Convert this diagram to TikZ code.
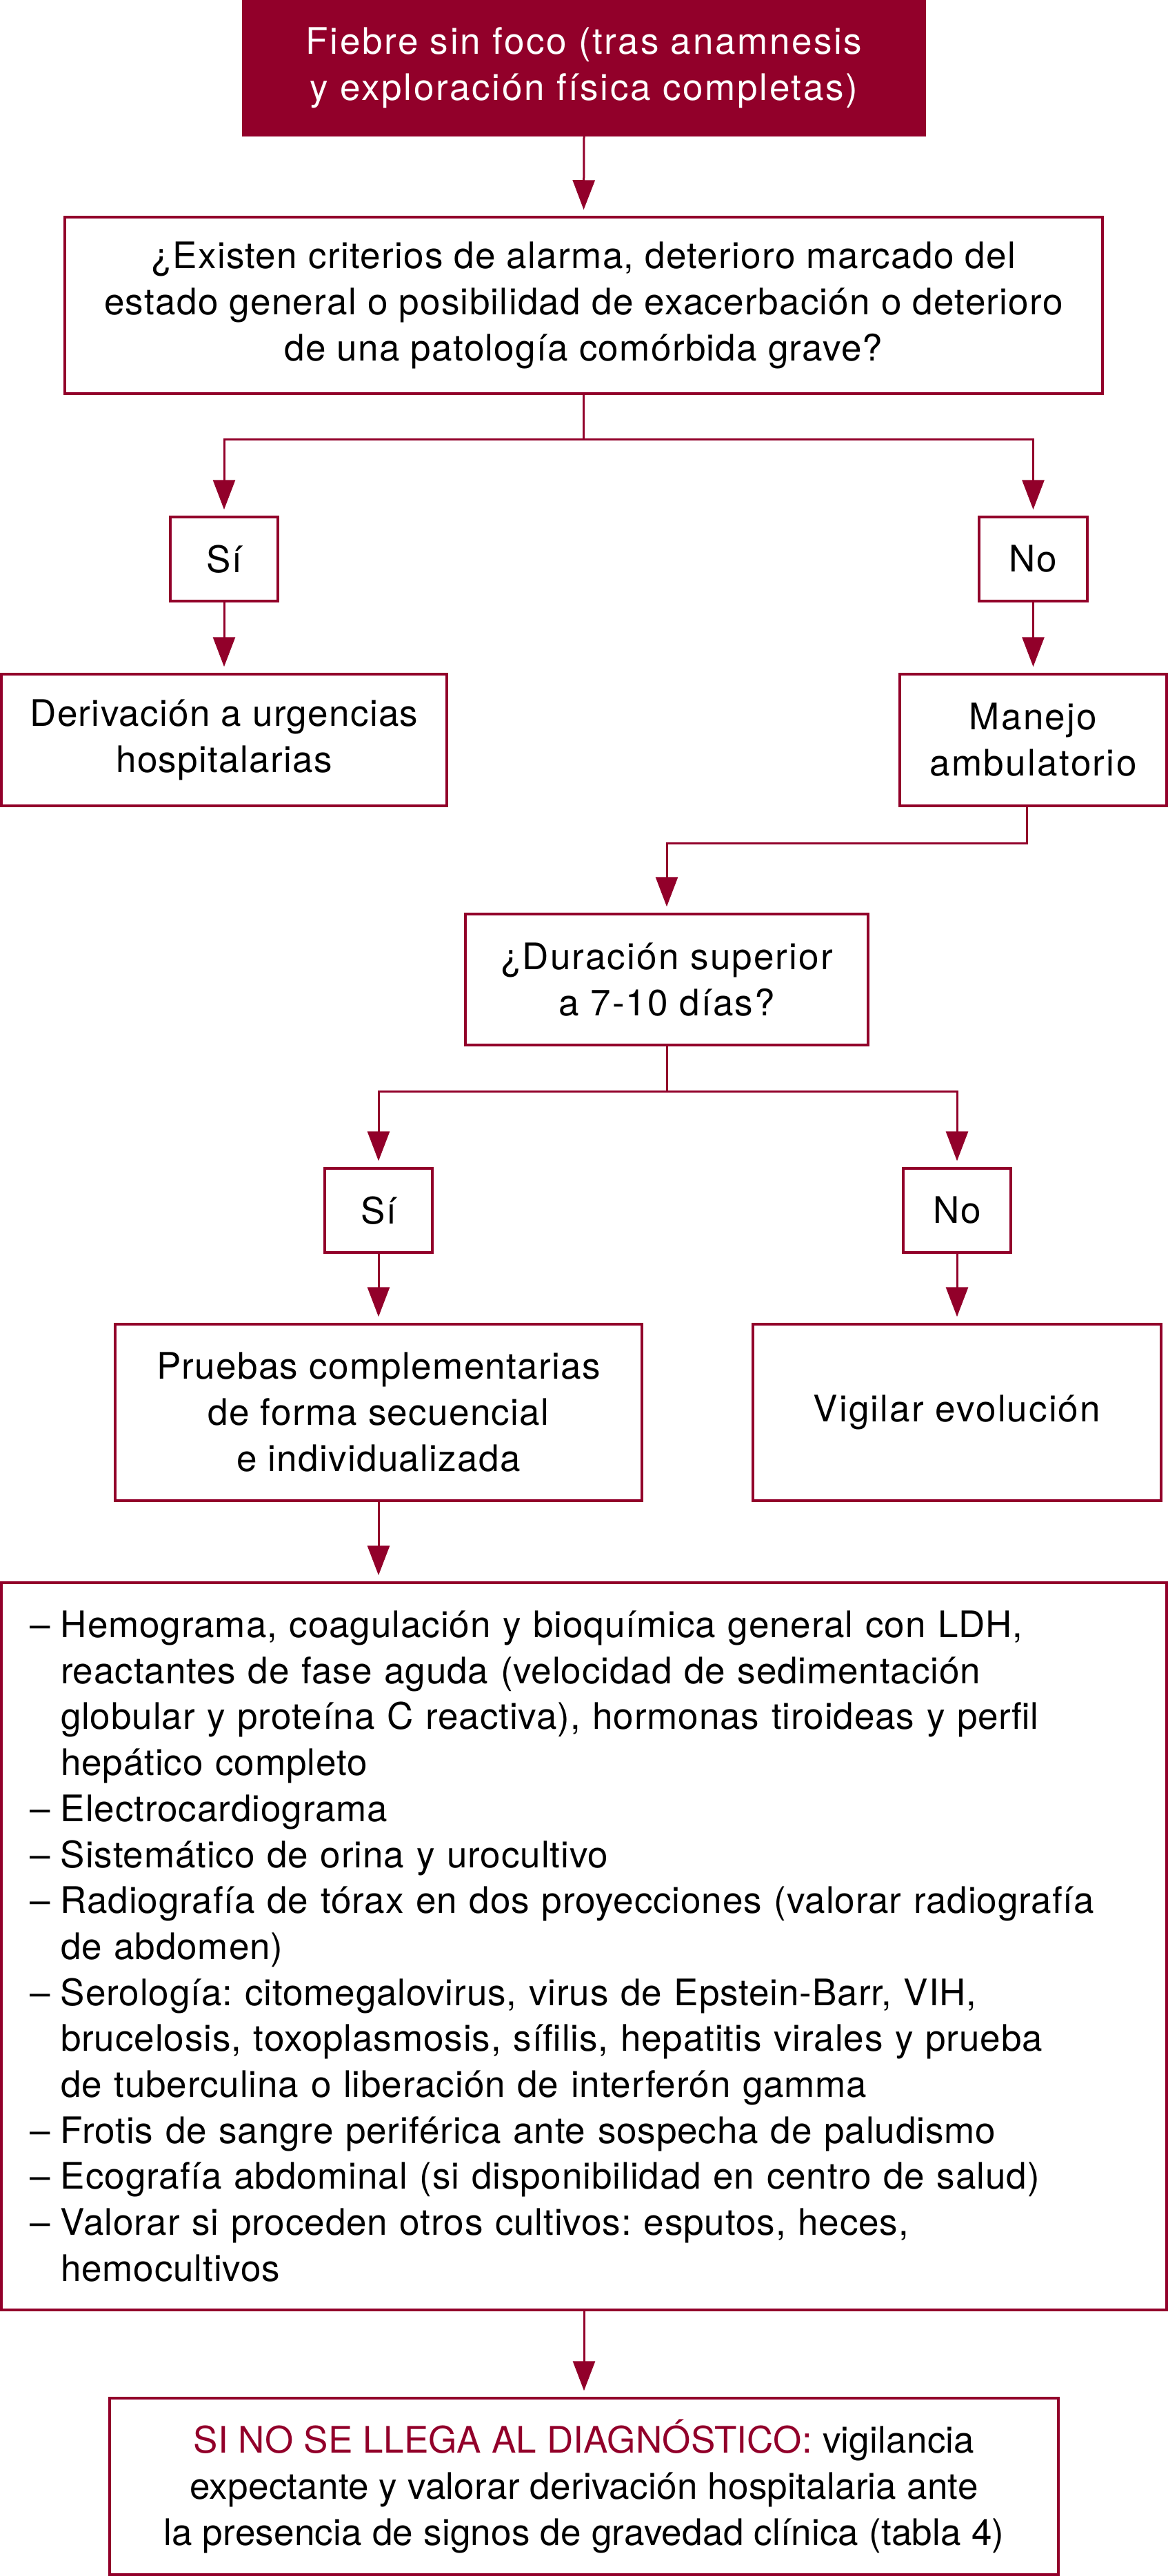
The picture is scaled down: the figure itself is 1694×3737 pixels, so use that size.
\documentclass[tikz,border=0pt]{standalone}
\usepackage{fontspec}
\setmainfont{TeX Gyre Heros}
\usetikzlibrary{arrows.meta}
\definecolor{dred}{RGB}{146,0,42}
\newcommand\itm{\makebox[45pt][l]{–}}
\newcommand\cnt{\hspace*{45pt}}
\frenchspacing
\begin{document}
\begin{tikzpicture}[x=1pt,y=-1pt,
  track/.style={font=\fontsize{53}{67}\selectfont\addfontfeature{LetterSpace=#1}\frenchspacing},
  box/.style={draw=dred,line width=3.5pt,rectangle,align=center,inner sep=0pt,track=3},
  conn/.style={draw=dred,line width=3pt},
  arr/.style={conn,-{Triangle[length=43pt,width=32pt]},shorten >=9pt},
]
\useasboundingbox (0,0) rectangle (1694,3737);
\node[box,fill=dred,text=white,minimum width=988pt,minimum height=196pt,track=5] (start) at (847,98)
  {Fiebre sin foco (tras anamnesis\\y exploración física completas)};
\node[box,minimum width=1505pt,minimum height=256pt,track=2.5] (q1) at (846.5,443)
  {¿Existen criterios de alarma, deterioro marcado del\\estado general o posibilidad de exacerbación o deterioro\\de una patología comórbida grave?};
\node[box,minimum width=156pt,minimum height=122pt] (si1) at (325,811) {Sí};
\node[box,minimum width=157pt,minimum height=122pt] (no1) at (1498.5,811) {No};
\node[box,minimum width=646pt,minimum height=191pt,track=2.5] (deriv) at (325,1073.5)
  {Derivación a urgencias\\hospitalarias};
\node[box,minimum width=387pt,minimum height=191pt,track=4.5] (manejo) at (1498.5,1073.5)
  {Manejo\\ambulatorio};
\node[box,minimum width=584pt,minimum height=190pt,track=4] (dur) at (967,1421)
  {¿Duración superior\\a 7-10 días?};
\node[box,minimum width=156pt,minimum height=122pt] (si2) at (549,1756) {Sí};
\node[box,minimum width=156pt,minimum height=122pt] (no2) at (1388,1756) {No};
\node[box,minimum width=764pt,minimum height=256pt,track=2.5] (pru) at (549,2049)
  {Pruebas complementarias\\de forma secuencial\\e individualizada};
\node[box,minimum width=592pt,minimum height=256pt,track=4] (vig) at (1388,2049)
  {Vigilar evolución};
\node[box,align=left,text width=1608pt,minimum width=1690pt,minimum height=1055pt,
  font=\fontsize{53}{66.7}\selectfont\addfontfeature{LetterSpace=1.7}\frenchspacing] (list) at (847,2823.5)
  {\mbox{\itm Hemograma, coagulación y bioquímica general con LDH,}\\
   \mbox{\cnt reactantes de fase aguda (velocidad de sedimentación}\\
   \mbox{\cnt globular y proteína C reactiva), hormonas tiroideas y perfil}\\
   \mbox{\cnt hepático completo}\\
   \mbox{\itm Electrocardiograma}\\
   \mbox{\itm Sistemático de orina y urocultivo}\\
   \mbox{\itm Radiografía de tórax en dos proyecciones (valorar radiografía}\\
   \mbox{\cnt de abdomen)}\\
   \mbox{\itm Serología: citomegalovirus, virus de Epstein-Barr, VIH,}\\
   \mbox{\cnt brucelosis, toxoplasmosis, sífilis, hepatitis virales y prueba}\\
   \mbox{\cnt de tuberculina o liberación de interferón gamma}\\
   \mbox{\itm Frotis de sangre periférica ante sospecha de paludismo}\\
   \mbox{\itm Ecografía abdominal (si disponibilidad en centro de salud)}\\
   \mbox{\itm Valorar si proceden otros cultivos: esputos, heces,}\\
   \mbox{\cnt hemocultivos}};
\node[box,minimum width=1376pt,minimum height=256pt,track=0.5] (final) at (847,3607)
  {{\color{dred}SI NO SE LLEGA AL DIAGNÓSTICO:} vigilancia\\expectante y valorar derivación hospitalaria ante\\la presencia de signos de gravedad clínica (tabla 4)};
\coordinate (j1) at (846.5,637);
\coordinate (j2) at (967,1223);
\coordinate (j3) at (967,1583);
\draw[arr] (start.south) -- (q1.north);
\draw[conn] (q1.south) -- (j1);
\draw[arr] (j1) -| (si1.north);
\draw[arr] (j1) -| (no1.north);
\draw[arr] (si1.south) -- (deriv.north);
\draw[arr] (no1.south) -- (manejo.north);
\draw[arr] ([xshift=-9.5pt]manejo.south) |- (j2) -- (dur.north);
\draw[conn] (dur.south) -- (j3);
\draw[arr] (j3) -| (si2.north);
\draw[arr] (j3) -| (no2.north);
\draw[arr] (si2.south) -- (pru.north);
\draw[arr] (no2.south) -- (vig.north);
\draw[arr] (pru.south) -- (pru.south |- list.north);
\draw[arr] (list.south) -- (final.north);
\end{tikzpicture}
\end{document}
